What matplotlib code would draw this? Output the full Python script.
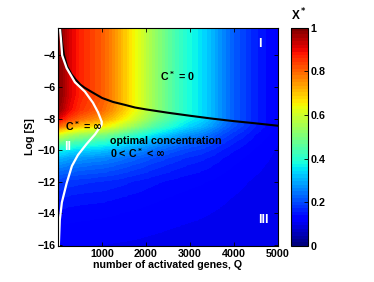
import numpy as np
import matplotlib
matplotlib.use('Agg')
import matplotlib.pyplot as plt

plt.rcParams['font.family'] = ['Liberation Sans', 'DejaVu Sans']
plt.rcParams['font.weight'] = 'bold'
plt.rcParams['axes.labelweight'] = 'bold'
plt.rcParams['font.size'] = 7.7

# X* in the C*=0 region (top band)
q_top = [0, 250, 500, 750, 1000, 1250, 1500, 1750, 2000, 2250, 2500,
         2750, 3000, 3250, 3500, 3750, 4000, 4500, 5000]
x_top = [1.0, 0.92, 0.87, 0.84, 0.81, 0.76, 0.70, 0.64, 0.58, 0.52, 0.47,
         0.42, 0.38, 0.35, 0.31, 0.26, 0.22, 0.16, 0.12]

# fall-off of X* below the black line, read along Q ~ 500
logs_low = [-16, -15, -14, -13, -12, -11, -10.5, -10, -9.5, -9, -8.5, -8,
            -7.5, -7, -6.5, -2]
h_low = [0.013, 0.025, 0.04, 0.065, 0.10, 0.18, 0.23, 0.31, 0.43, 0.58, 0.78,
         0.91, 0.975, 0.99, 1.0, 1.0]
x_floor = 0.10

# boundary C*=0 / optimal (black line)
black_q = [40, 60, 90, 130, 200, 300, 400, 500, 600, 750, 1000, 1250, 1500,
           1750, 2000, 2500, 3000, 3500, 4000, 4500, 5000]
black_s = [-2.25, -2.6, -3.3, -4.0, -4.7, -5.2, -5.55, -5.85, -6.05, -6.3, -6.7,
           -6.95, -7.12, -7.3, -7.42, -7.63, -7.82, -8.0, -8.16, -8.3, -8.45]

# boundary of region II (white line)
white_s = [-2.25, -2.9, -4.0, -4.8, -5.7, -6.3, -7.0, -7.6, -8.2, -8.4, -9.0,
           -9.6, -10.3, -11.0, -12.1, -13.3, -14.4, -16.05]
white_q = [35, 57, 87, 188, 378, 607, 790, 905, 990, 985, 836,
           646, 447, 309, 188, 80, 34, 11]

qg = np.linspace(0, 5000, 501)
sg = np.linspace(-16.05, -2.25, 401)
QQ, SS = np.meshgrid(qg, sg)
f = np.interp(QQ, q_top, x_top)
b = np.interp(QQ, black_q, black_s)
h = np.interp(SS, logs_low, h_low)
hb = np.interp(b, logs_low, h_low)
X = np.where(SS >= b, f, x_floor + (f - x_floor) * h / hb)

fig = plt.figure(figsize=(3.74, 2.82), dpi=100)
ax = fig.add_axes([0.156, 0.128, 0.586, 0.774])
cax = fig.add_axes([0.778, 0.128, 0.045, 0.774])

cmap = plt.get_cmap('jet', 64)
pc = ax.pcolormesh(qg, sg, X, cmap=cmap, vmin=0, vmax=1, shading='auto')
ax.plot(black_q, black_s, color='black', lw=1.5)
ax.plot(white_q, white_s, color='white', lw=1.6)

ax.set_xlim(0, 5000)
ax.set_ylim(-16.05, -2.25)
ax.set_xticks([1000, 2000, 3000, 4000, 5000])
ax.set_yticks([-16, -14, -12, -10, -8, -6, -4])
ax.tick_params(direction='in', top=True, right=True, length=3, width=0.6, pad=2)
ax.set_xlabel('number of activated genes, Q', labelpad=1)
ax.set_ylabel('Log [S]', labelpad=2)

ax.text(4590, -3.3, 'I', color='white', ha='center', va='center', fontsize=9)
ax.text(2710, -5.3, r'C$^*$ = 0', color='black', ha='center', va='center')
ax.text(150, -8.45, r'C$^*$ = $\infty$', color='black', ha='left', va='center')
ax.text(218, -9.8, 'II', color='white', ha='center', va='center', fontsize=9)
ax.text(1180, -9.4, 'optimal concentration', color='black', ha='left', va='center')
ax.text(1180, -10.2, r'0 < C$^*$ < $\infty$', color='black', ha='left', va='center')
ax.text(4680, -14.4, 'III', color='white', ha='center', va='center', fontsize=9)

cb = fig.colorbar(pc, cax=cax, ticks=[0, 0.2, 0.4, 0.6, 0.8, 1])
cb.ax.set_yticklabels(['0', '0.2', '0.4', '0.6', '0.8', '1'])
cb.ax.tick_params(direction='in', length=3, width=0.6, pad=2)
cax.text(0.5, 1.02, r'X$^*$', transform=cax.transAxes, ha='center', va='bottom',
         fontsize=8.5)

plt.savefig('out.png', dpi=100)
